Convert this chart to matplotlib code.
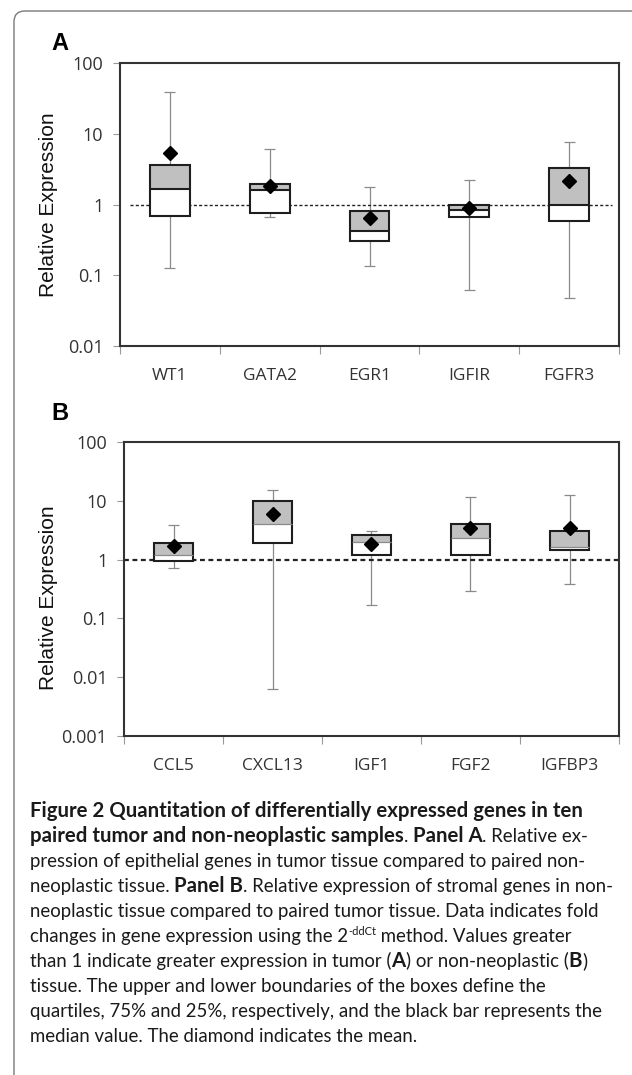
import matplotlib
matplotlib.use("Agg")
import matplotlib.pyplot as plt
from matplotlib.patches import FancyBboxPatch

# panel A: epithelial genes (tumor vs non-neoplastic)
genes_a = ["WT1", "GATA2", "EGR1", "IGFIR", "FGFR3"]
lo_a = [0.128, 0.66, 0.135, 0.061, 0.048]
q1_a = [0.68, 0.77, 0.30, 0.66, 0.59]
med_a = [1.68, 1.58, 0.42, 0.83, 1.0]
q3_a = [3.6, 1.96, 0.805, 0.99, 3.26]
hi_a = [39, 6.0, 1.76, 2.25, 7.7]
mean_a = [5.4, 1.85, 0.655, 0.90, 2.14]

# panel B: stromal genes (non-neoplastic vs tumor)
genes_b = ["CCL5", "CXCL13", "IGF1", "FGF2", "IGFBP3"]
lo_b = [0.71, 0.0063, 0.172, 0.293, 0.385]
q1_b = [0.95, 1.95, 1.22, 1.22, 1.46]
med_b = [1.2, 4.04, 1.97, 2.34, 1.64]
q3_b = [1.95, 9.95, 2.63, 4.1, 3.11]
hi_b = [3.9, 15.5, 3.03, 11.8, 12.6]
mean_b = [1.71, 5.98, 1.82, 3.41, 3.41]

W, H = 632, 1075
fig = plt.figure(figsize=(W / 100, H / 100), dpi=100)

def px_axes(l, t, r, b):
    return fig.add_axes([l / W, 1 - b / H, (r - l) / W, (b - t) / H])

tick_font = "Open Sans"
gray_fill = "#c0c0c0"

def boxpanel(ax, genes, lo, q1, med, q3, hi, mean, ylo, yticks, ylabels,
             med_color, med_lw, dash_span, dash_lw):
    x = list(range(1, len(genes) + 1))
    bw = 0.4
    cw = 0.11
    ax.set_yscale("log")
    ax.set_ylim(ylo, 100)
    ax.set_xlim(0.5, len(genes) + 0.5)
    # whiskers
    ax.vlines(x, q3, hi, color="#8a8a8a", lw=0.9, zorder=1)
    ax.vlines(x, lo, q1, color="#8a8a8a", lw=0.9, zorder=1)
    ax.hlines(hi, [i - cw / 2 for i in x], [i + cw / 2 for i in x], color="#8a8a8a", lw=0.9, zorder=1)
    ax.hlines(lo, [i - cw / 2 for i in x], [i + cw / 2 for i in x], color="#8a8a8a", lw=0.9, zorder=1)
    # reference line at 1
    ax.axhline(1, xmin=dash_span[0], xmax=dash_span[1], color="#222222", lw=dash_lw,
               ls=(0, (2.2, 1.6)), zorder=2)
    # box halves
    ax.bar(x, [m - a for a, m in zip(q1, med)], bottom=q1, width=bw, color="white", zorder=3)
    ax.bar(x, [b - m for m, b in zip(med, q3)], bottom=med, width=bw, color=gray_fill, zorder=3)
    ax.bar(x, [b - a for a, b in zip(q1, q3)], bottom=q1, width=bw, fill=False,
           edgecolor="#1e1e1e", lw=1.5, zorder=4)
    ax.hlines(med, [i - bw / 2 for i in x], [i + bw / 2 for i in x], color=med_color, lw=med_lw, zorder=4)
    ax.plot(x, mean, "D", color="black", ms=7, zorder=5)

    ax.set_yticks(yticks)
    ax.set_yticklabels(ylabels)
    ax.minorticks_off()
    ax.set_xticks([i + 0.5 for i in range(len(genes) + 1)])
    ax.set_xticklabels([])
    ax.set_xticks(x, minor=True)
    ax.set_xticklabels(genes, minor=True)
    ax.tick_params(axis="x", which="major", length=6, color="#999999", direction="out")
    ax.tick_params(axis="x", which="minor", length=0, pad=16, labelsize=12.5, labelcolor="#333333")
    ax.tick_params(axis="y", which="major", length=5, color="#999999", pad=7,
                   labelsize=13, labelcolor="#333333")
    ax.tick_params(axis="y", which="minor", left=False)
    for lab in ax.get_xticklabels(minor=True) + ax.get_yticklabels():
        lab.set_fontfamily(tick_font)
    for s in ax.spines.values():
        s.set_color("#333333")
        s.set_linewidth(1.5)
    ax.set_ylabel("Relative Expression", fontsize=15, family="Liberation Sans", color="#111111")

ax_a = px_axes(120, 63, 619, 346)
boxpanel(ax_a, genes_a, lo_a, q1_a, med_a, q3_a, hi_a, mean_a, 0.01,
         [0.01, 0.1, 1, 10, 100], ["0.01", "0.1", "1", "10", "100"],
         "#1e1e1e", 1.5, (0.02, 0.985), 1.0)
ax_a.yaxis.set_label_coords(-0.125, 0.5)

ax_b = px_axes(124, 442, 619, 736)
boxpanel(ax_b, genes_b, lo_b, q1_b, med_b, q3_b, hi_b, mean_b, 0.001,
         [0.001, 0.01, 0.1, 1, 10, 100], ["0.001", "0.01", "0.1", "1", "10", "100"],
         "#8a8a8a", 0.9, (0.0, 1.0), 1.6)
ax_b.yaxis.set_label_coords(-0.134, 0.47)

fig.text(60 / W, 1 - 43 / H, "A", fontsize=17, fontweight="bold", family="Liberation Sans",
         ha="center", va="center")
fig.text(60 / W, 1 - 413 / H, "B", fontsize=17, fontweight="bold", family="Liberation Sans",
         ha="center", va="center")

# rounded frame around the figure
frame = FancyBboxPatch((14 / W, -12 / H), 630 / W, (H - 11 + 12) / H,
                       boxstyle="round,pad=0,rounding_size=0.017", transform=fig.transFigure,
                       fill=False, edgecolor="#7a7a7a", lw=1.0, mutation_aspect=W / H)
fig.patches.append(frame)

# caption
cap_font = "Lato"
renderer = fig.canvas.get_renderer()

def seg_width(s, size, weight):
    t1 = fig.text(0, 0, "|" + s + "|", fontsize=size, fontweight=weight, family=cap_font)
    t2 = fig.text(0, 0, "||", fontsize=size, fontweight=weight, family=cap_font)
    w = t1.get_window_extent(renderer).width - t2.get_window_extent(renderer).width
    t1.remove()
    t2.remove()
    return w

caption = [
    [("Figure 2 Quantitation of differentially expressed genes in ten", "bold", 0)],
    [("paired tumor and non-neoplastic samples", "bold", 0), (". ", "normal", 0),
     ("Panel A", "bold", 0), (". Relative ex-", "normal", 0)],
    [("pression of epithelial genes in tumor tissue compared to paired non-", "normal", 0)],
    [("neoplastic tissue. ", "normal", 0), ("Panel B", "bold", 0),
     (". Relative expression of stromal genes in non-", "normal", 0)],
    [("neoplastic tissue compared to paired tumor tissue. Data indicates fold", "normal", 0)],
    [("changes in gene expression using the 2", "normal", 0), ("-ddCt", "normal", 1),
     (" method. Values greater", "normal", 0)],
    [("than 1 indicate greater expression in tumor (", "normal", 0), ("A", "bold", 0),
     (") or non-neoplastic (", "normal", 0), ("B", "bold", 0), (")", "normal", 0)],
    [("tissue. The upper and lower boundaries of the boxes define the", "normal", 0)],
    [("quartiles, 75% and 25%, respectively, and the black bar represents the", "normal", 0)],
    [("median value. The diamond indicates the mean.", "normal", 0)],
]

base = 10.0
reg_size = base * 556 / seg_width(caption[2][0][0], base, "normal")
bold_size = min(base * 562 / seg_width(caption[0][0][0], base, "bold"), reg_size * 1.1)
x0 = 30
y0 = 817
dy = 25
for i, line in enumerate(caption):
    x = x0
    for s, weight, sup in line:
        size = bold_size if weight == "bold" else reg_size
        if sup:
            size = reg_size * 0.6
        yy = y0 + dy * i - (7 if sup else 0)
        fig.text(x / W, 1 - yy / H, s, fontsize=size, fontweight=weight, family=cap_font,
                 color="#1a1a1a", va="baseline", ha="left")
        x += seg_width(s, size, weight)

fig.savefig("out.png", dpi=100)
